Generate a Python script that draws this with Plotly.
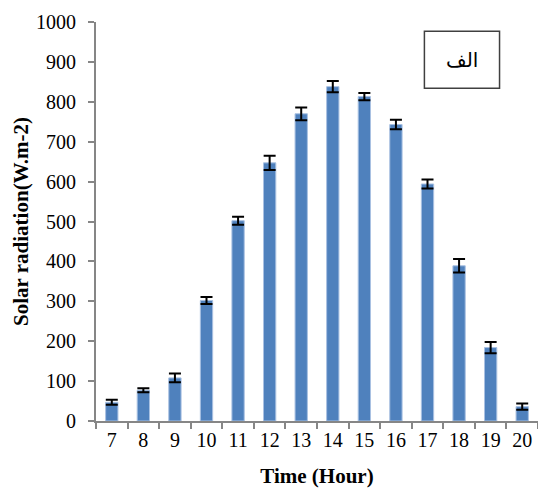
import plotly.graph_objects as go

hours = ["7", "8", "9", "10", "11", "12", "13", "14", "15", "16", "17", "18", "19", "20"]
radiation = [47, 77, 108, 302, 502, 647, 770, 838, 813, 743, 594, 389, 184, 36]
errors = [6, 5, 11, 9, 10, 18, 16, 14, 9, 12, 11, 17, 14, 8]
y_ticks = [0, 100, 200, 300, 400, 500, 600, 700, 800, 900, 1000]

FONT = "Liberation Serif, Times New Roman, serif"

fig = go.Figure()
fig.add_trace(go.Bar(
    x=hours, y=radiation,
    width=0.39,
    marker=dict(color="#4F81BD", line=dict(color="#A9C1E2", width=1)),
    error_y=dict(type="data", array=errors, visible=True,
                 color="black", thickness=2, width=6),
))

axis_line = "#868686"
fig.update_layout(
    width=538, height=488,
    margin=dict(l=96, r=0, t=22, b=67),
    plot_bgcolor="white", paper_bgcolor="white",
    showlegend=False,
    font=dict(family=FONT, size=20, color="black"),
    xaxis=dict(
        type="category",
        showline=True, linecolor=axis_line, linewidth=2,
        ticks="outside", tickson="boundaries", ticklen=6, tickwidth=2, tickcolor=axis_line,
        showgrid=False, zeroline=False,
        tickfont=dict(family=FONT, size=20),
        title=dict(text="<b>Time (Hour)</b>", font=dict(family=FONT, size=21), standoff=19),
    ),
    yaxis=dict(
        range=[0, 1000], tickvals=y_ticks,
        showline=True, linecolor=axis_line, linewidth=2,
        ticks="outside", ticklen=6, tickwidth=2, tickcolor=axis_line,
        showgrid=False, zeroline=False,
        tickfont=dict(family=FONT, size=20),
        ticklabelstandoff=8,
        title=dict(text="<b>Solar radiation(W.m-2)</b>", font=dict(family=FONT, size=21), standoff=2),
    ),
)

fig.add_shape(type="rect", xref="paper", yref="paper",
              x0=0.743, x1=0.913, y0=0.834, y1=0.977,
              line=dict(color="#404040", width=1.5), fillcolor="white")
fig.add_annotation(text="الف", xref="paper", yref="paper", x=0.828, y=0.905,
                   xanchor="center", yanchor="middle",
                   showarrow=False, font=dict(family="DejaVu Sans", size=20, color="black"))

fig.write_html("out.html")
